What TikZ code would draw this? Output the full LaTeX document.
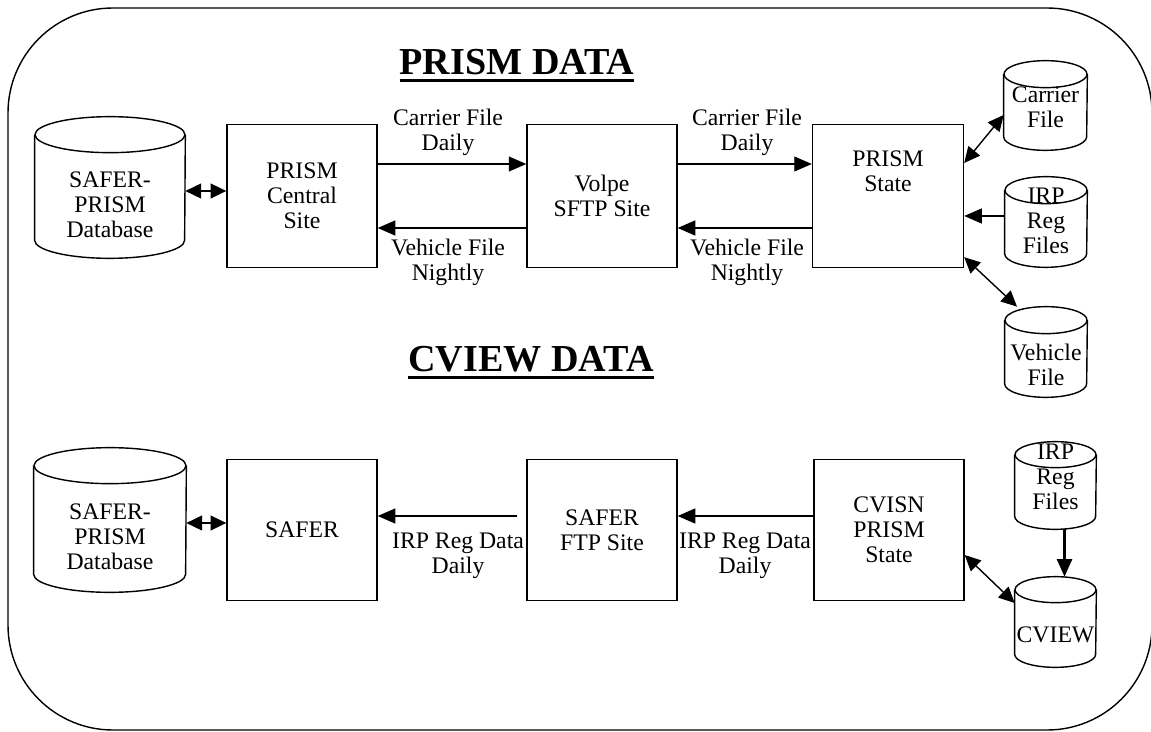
\documentclass[tikz,border=0pt]{standalone}
\usepackage{fontspec}
\setmainfont{Liberation Serif}
\usetikzlibrary{arrows.meta}
\newcommand{\thickul}[1]{\vtop{\hbox{#1}\kern2.2pt\hrule height 1.7pt}}
% name, position, width, height, cap radius, text shift, text
\newcommand{\database}[7]{%
  \node[dbbox,minimum width=#3,minimum height=#4,label={[lbl,yshift=#6]center:#7}] (#1) at (#2) {};
  \draw[line width=0.8pt] ([yshift=-#5]#1.north) ellipse [x radius=#3/2,y radius=#5];
  \draw[line width=0.8pt] ([yshift=-#5]#1.north west) -- ([yshift=#5]#1.south west)
    arc[start angle=180,end angle=360,x radius=#3/2,y radius=#5] -- ([yshift=-#5]#1.north east);
}

\begin{document}
\begin{tikzpicture}[x=0.02cm,y=-0.02cm,
    font=\fontsize{13.5}{14.3}\selectfont,
    box/.style={draw,line width=0.8pt,minimum width=3cm,minimum height=2.86cm,align=center,inner sep=0pt},
    dbbox/.style={rectangle,inner sep=0pt},
    arr/.style={-{Triangle[length=10pt,width=8.5pt]},line width=0.8pt},
    dbl/.style={{Triangle[length=9pt,width=8.5pt]}-{Triangle[length=9pt,width=8.5pt]},line width=0.8pt},
    lbl/.style={align=center,inner sep=0pt},
    title/.style={font=\fontsize{21.7}{26}\selectfont\bfseries,inner sep=0pt,anchor=base}]
    \useasboundingbox (0,0) rectangle (1151,732);
    \draw[line width=0.8pt,rounded corners=2.1cm] (8,8) rectangle (1152,730);

    % prism data
    \node[title] (prismtitle) at (517,75) {\thickul{PRISM DATA}};
    \database{db1}{110,187.5}{3cm}{2.82cm}{0.36cm}{-0.34cm}{SAFER-\\PRISM\\Database}
    \node[box] (central) at (302,196) {PRISM\\Central\\Site};
    \node[box] (volpe) at (602,196) {Volpe\\SFTP Site};
    \node[box,minimum width=3.02cm] (pstate) at (888,196) {PRISM\\State\\[14pt]};
    \database{carrier}{1045.5,105.5}{1.66cm}{1.78cm}{0.27cm}{-0.03cm}{Carrier\\File}
    \database{irp1}{1046,222}{1.64cm}{1.8cm}{0.27cm}{0.02cm}{IRP\\Reg\\Files}
    \database{vehfile}{1046,352}{1.64cm}{1.8cm}{0.27cm}{-0.26cm}{Vehicle\\File}

    \node[lbl] (cf1) at (448,132) {Carrier File\\Daily};
    \node[lbl] (vf1) at (448,262) {Vehicle File\\Nightly};
    \node[lbl] (cf2) at (747,132) {Carrier File\\Daily};
    \node[lbl] (vf2) at (747,262) {Vehicle File\\Nightly};

    \draw[dbl] ([yshift=-0.07cm]db1.east) -- ([yshift=-0.07cm]db1.east -| central.west);
    \draw[arr] ([yshift=0.64cm]central.east) -- ([yshift=0.64cm]volpe.west);
    \draw[arr] ([yshift=-0.64cm]volpe.west) -- ([yshift=-0.64cm]central.east);
    \draw[arr] ([yshift=0.64cm]volpe.east) -- ([yshift=0.64cm]pstate.west);
    \draw[arr] ([yshift=-0.64cm]pstate.west) -- ([yshift=-0.64cm]volpe.east);
    \draw[dbl] ([yshift=0.66cm]pstate.east) -- ([yshift=-0.19cm]carrier.west);
    \draw[arr] ([yshift=0.12cm]irp1.west) -- ([yshift=0.12cm]irp1.west -| pstate.east);
    \draw[dbl] ([yshift=0.22cm]pstate.south east) -- ([xshift=-0.58cm]vehfile.north);

    % cview data
    \node[title] (cviewtitle) at (531,372) {\thickul{CVIEW DATA}};
    \database{db2}{110,520}{3.04cm}{2.88cm}{0.36cm}{-0.34cm}{SAFER-\\PRISM\\Database}
    \node[box,minimum height=2.82cm] (safer) at (302,530) {SAFER};
    \node[box,minimum height=2.82cm] (ftp) at (602,530) {SAFER\\FTP Site};
    \node[box,minimum height=2.82cm] (cvisn) at (889,530) {CVISN\\PRISM\\State};
    \database{irp2}{1055.5,485.5}{1.62cm}{1.74cm}{0.26cm}{0.17cm}{IRP\\Reg\\Files}
    \database{cview}{1055.5,622}{1.62cm}{1.8cm}{0.26cm}{-0.26cm}{CVIEW}

    \node[lbl] (irpd1) at (458,556) {IRP Reg Data\\Daily};
    \node[lbl] (irpd2) at (745,556) {IRP Reg Data\\Daily};

    \draw[dbl] ([yshift=-0.06cm]db2.east) -- ([yshift=-0.06cm]db2.east -| safer.west);
    \draw[arr,shorten <=0.18cm] ([yshift=0.28cm]ftp.west) -- ([yshift=0.28cm]safer.east);
    \draw[arr] ([yshift=0.28cm]cvisn.west) -- ([yshift=0.28cm]ftp.east);
    \draw[dbl] ([yshift=-0.5cm]cvisn.east) -- ([yshift=0.38cm]cview.west);
    \draw[arr,line width=1.6pt] ([xshift=0.18cm]irp2.south) -- ([xshift=0.18cm]irp2.south |- cview.north);
\end{tikzpicture}
\end{document}
